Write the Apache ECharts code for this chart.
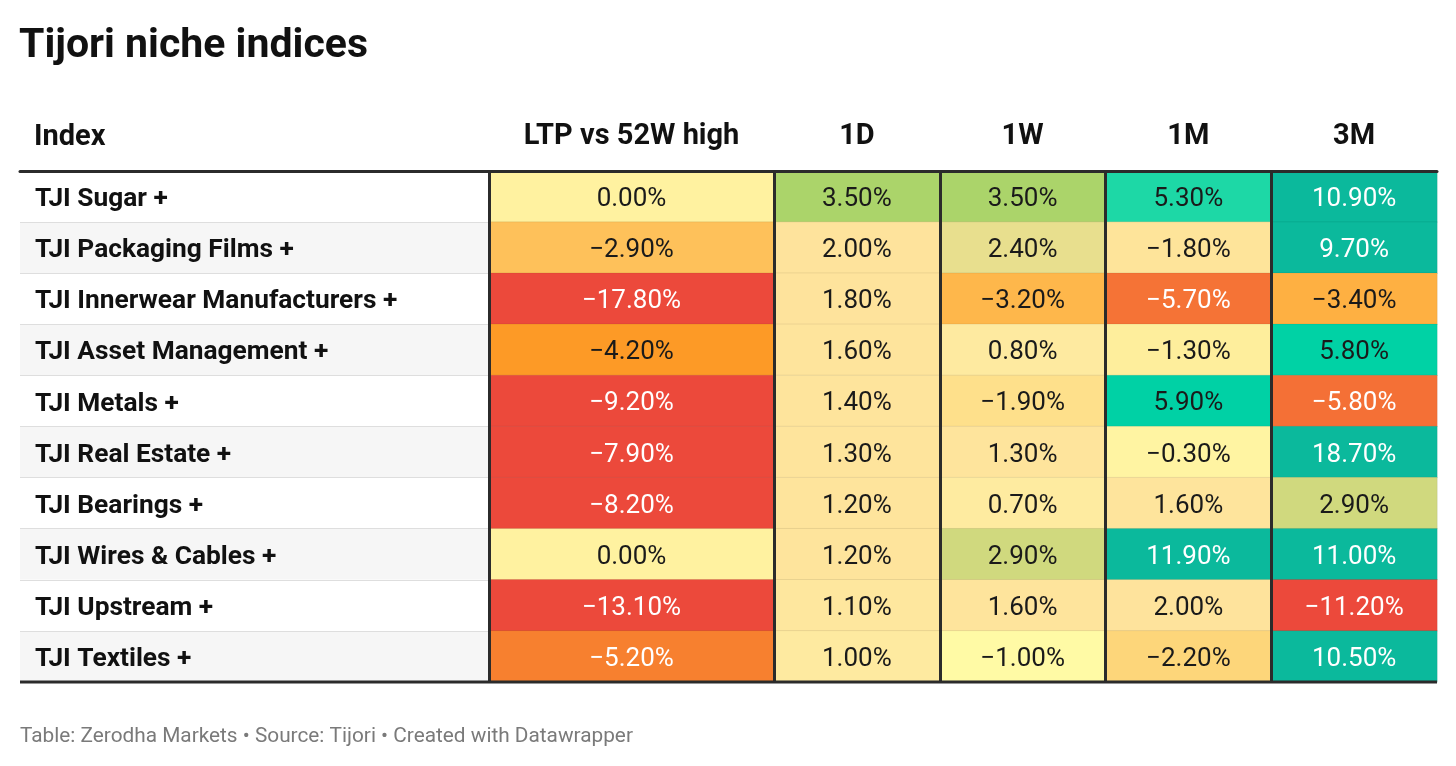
<!DOCTYPE html>
<html>
<head>
<meta charset="utf-8">
<script src="https://cdn.jsdelivr.net/npm/echarts@6/dist/echarts.min.js"></script>
<style>
  html, body { margin: 0; padding: 0; background: #fff; }
  #main { width: 1456px; height: 766px; }
</style>
</head>
<body>
<div id="main"></div>
<script>
var indices = ['TJI Sugar +', 'TJI Packaging Films +', 'TJI Innerwear Manufacturers +',
    'TJI Asset Management +', 'TJI Metals +', 'TJI Real Estate +', 'TJI Bearings +',
    'TJI Wires & Cables +', 'TJI Upstream +', 'TJI Textiles +'];
var periods = ['1D', '1W', '1M', '3M'];
var ltp = [0.0, -2.9, -17.8, -4.2, -9.2, -7.9, -8.2, 0.0, -13.1, -5.2];
var d1 = [3.5, 2.0, 1.8, 1.6, 1.4, 1.3, 1.2, 1.2, 1.1, 1.0];
var w1 = [3.5, 2.4, -3.2, 0.8, -1.9, 1.3, 0.7, 2.9, 1.6, -1.0];
var m1 = [5.3, -1.8, -5.7, -1.3, 5.9, -0.3, 1.6, 11.9, 2.0, -2.2];
var m3 = [10.9, 9.7, -3.4, 5.8, -5.8, 18.7, 2.9, 11.0, -11.2, 10.5];

// colour scale (value -> colour), datawrapper-like
var stops = [
    [-7, '#ec493b'], [-5.7, '#f57336'], [-5.2, '#f7802f'], [-4.2, '#fd9a26'],
    [-3.3, '#feb346'], [-2.9, '#fec15a'], [-2.2, '#fdd67a'], [-1.9, '#fee08b'],
    [-1.8, '#fee49a'], [-1.3, '#feee9c'], [-1.0, '#fffaa5'], [0, '#fff2a0'],
    [0.8, '#feeaa0'], [1.0, '#feeaa0'], [1.2, '#fee49c'], [2.0, '#fee39c'],
    [2.4, '#e8df8e'], [2.9, '#d0d97e'], [3.5, '#abd46a'], [5.3, '#1dd8a6'],
    [5.8, '#00d2a5'], [9, '#0bb99c']
];
function hex(c) { return [1, 3, 5].map(function (i) { return parseInt(c.substr(i, 2), 16); }); }
function colorFor(v) {
    if (v <= stops[0][0]) return stops[0][1];
    for (var i = 1; i < stops.length; i++) {
        if (v <= stops[i][0]) {
            var a = stops[i - 1], b = stops[i];
            var t = (v - a[0]) / (b[0] - a[0]);
            var ca = hex(a[1]), cb = hex(b[1]);
            return 'rgb(' + ca.map(function (x, k) { return Math.round(x + (cb[k] - x) * t); }).join(',') + ')';
        }
    }
    return stops[stops.length - 1][1];
}
function fmt(v) {
    var s = Math.abs(v).toFixed(2) + '%';
    return v < 0 ? '\u2212' + s : s;
}
function cell(x, y, v) {
    return {
        value: [x, y, v],
        itemStyle: { color: colorFor(v) },
        label: { color: (v <= -5 || v >= 9) ? '#ffffff' : '#1a1a1a' }
    };
}

var ltpData = ltp.map(function (v, i) { return cell(0, i, v); });
var perData = [];
[d1, w1, m1, m3].forEach(function (arr, c) {
    arr.forEach(function (v, i) { perData.push(cell(c, i, v)); });
});

var font = 'Roboto';
var tableTop = 171, tableH = 511;
var dom = document.getElementById('main');
var myChart = echarts.init(dom);

var cellLabel = { show: true, fontFamily: font, fontSize: 26, offset: [0, 3],
    formatter: function (p) { return fmt(p.value[2]); } };

var option = {
    backgroundColor: '#ffffff',
    animation: false,
    title: [
        { text: 'Tijori niche indices', left: 14, top: 21,
          textStyle: { fontFamily: font, fontSize: 41, fontWeight: 'bold', color: '#111' } },
        { text: 'Index', left: 29, top: 118,
          textStyle: { fontFamily: font, fontSize: 29, fontWeight: 'bold', color: '#111' } },
        { text: 'Table: Zerodha Markets \u2022 Source: Tijori \u2022 Created with Datawrapper', left: 15, top: 721,
          textStyle: { fontFamily: font, fontSize: 20.8, fontWeight: 'normal', color: '#7a7a7a' } }
    ],
    grid: [
        { left: 20, top: tableTop, width: 469, height: tableH },
        { left: 489, top: tableTop, width: 285, height: tableH },
        { left: 774, top: tableTop, width: 663, height: tableH }
    ],
    xAxis: [
        { gridIndex: 0, type: 'category', data: [''], position: 'top', z: 5,
          axisLine: { lineStyle: { color: '#2b2b2b', width: 3 } },
          axisTick: { show: false }, axisLabel: { show: false }, splitLine: { show: false } },
        { gridIndex: 1, type: 'category', data: ['LTP vs 52W high'], position: 'top', z: 5,
          axisLine: { lineStyle: { color: '#2b2b2b', width: 3 } },
          axisTick: { show: false },
          axisLabel: { margin: 20, fontFamily: font, fontSize: 29, fontWeight: 'bold', color: '#111' },
          splitLine: { show: true, lineStyle: { color: ['#2b2b2b', '#2b2b2b'], width: 3 } } },
        { gridIndex: 2, type: 'category', data: periods, position: 'top', z: 5,
          axisLine: { lineStyle: { color: '#2b2b2b', width: 3 } },
          axisTick: { show: false },
          axisLabel: { margin: 20, fontFamily: font, fontSize: 29, fontWeight: 'bold', color: '#111' },
          splitLine: { show: true, lineStyle: { color: ['#2b2b2b', '#2b2b2b', '#2b2b2b', '#2b2b2b', 'rgba(0,0,0,0)'], width: 3 } } }
    ],
    yAxis: [
        { gridIndex: 0, type: 'category', data: indices, inverse: true, z: 4,
          axisLine: { show: false }, axisTick: { show: false },
          axisLabel: { inside: true, margin: 15,
                       formatter: function (v) { return '{n|' + v + '}'; },
                       rich: { n: { fontFamily: font, fontSize: 26.3, fontWeight: 'bold', color: '#111',
                                    padding: [6, 0, 0, 0] } } },
          splitLine: { show: true, lineStyle: { color: '#dedede', width: 1 } },
          splitArea: { show: true, areaStyle: { color: ['#ffffff', '#f6f6f6'] } } },
        { gridIndex: 1, type: 'category', data: indices, inverse: true,
          axisLine: { show: false }, axisTick: { show: false }, axisLabel: { show: false } },
        { gridIndex: 2, type: 'category', data: indices, inverse: true,
          axisLine: { show: false }, axisTick: { show: false }, axisLabel: { show: false } }
    ],
    series: [
        {
            type: 'heatmap', xAxisIndex: 1, yAxisIndex: 1, data: ltpData,
            itemStyle: { borderColor: 'rgba(0,0,0,0.07)', borderWidth: 1 },
            label: cellLabel,
            emphasis: { disabled: true }
        },
        {
            type: 'heatmap', xAxisIndex: 2, yAxisIndex: 2, data: perData,
            itemStyle: { borderColor: 'rgba(0,0,0,0.07)', borderWidth: 1 },
            label: cellLabel,
            emphasis: { disabled: true }
        }
    ],
    graphic: [
        { type: 'line', z: 100, shape: { x1: 20, y1: tableTop + tableH, x2: 1437, y2: tableTop + tableH },
          style: { stroke: '#2b2b2b', lineWidth: 3 } }
    ]
};

myChart.setOption(option, true);
</script>
</body>
</html>
